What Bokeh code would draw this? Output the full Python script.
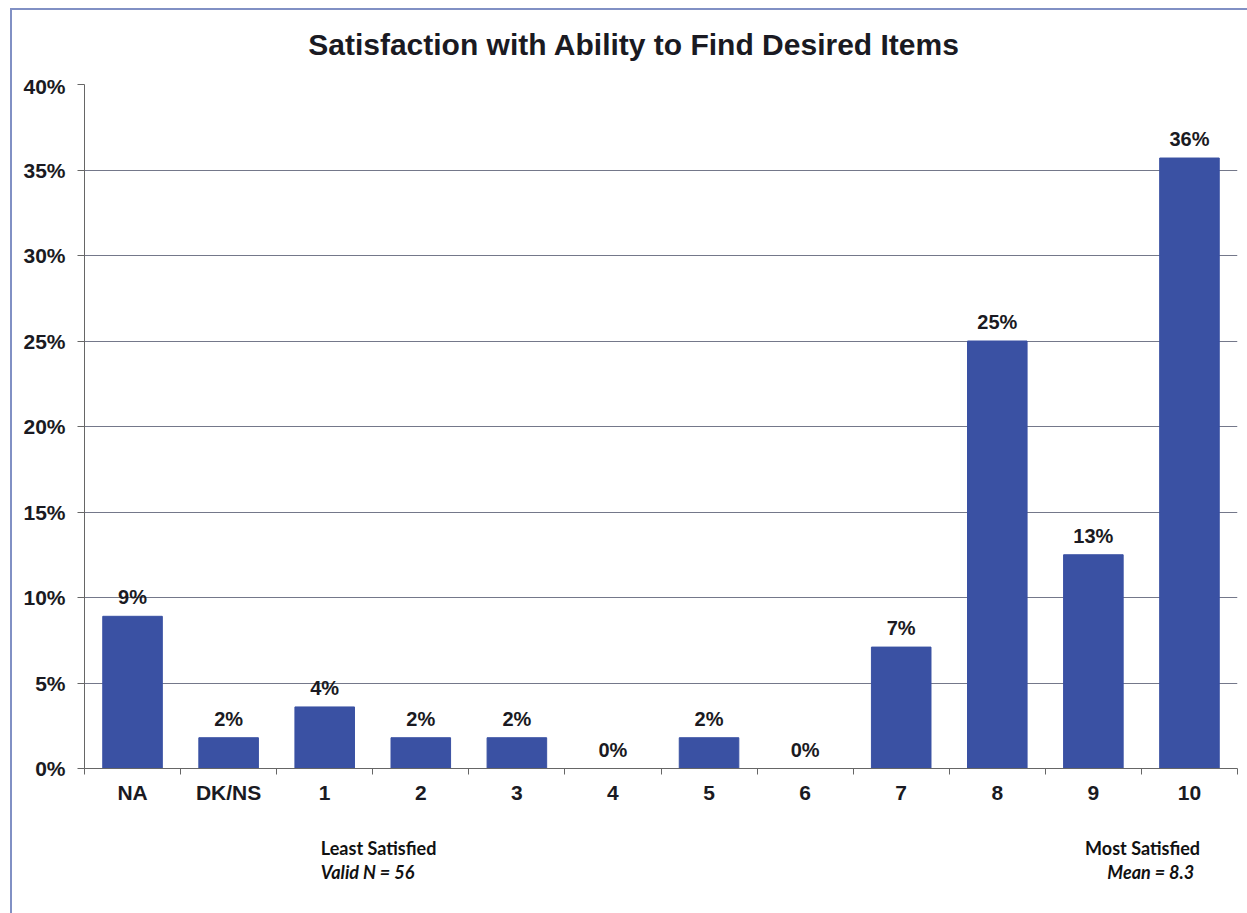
from bokeh.plotting import figure
from bokeh.layouts import column
from bokeh.models import (ColumnDataSource, Range1d, FixedTicker, NumeralTickFormatter,
                          LabelSet)
from bokeh.core.properties import value
from bokeh.embed import file_html
from bokeh.resources import INLINE

title = "Satisfaction with Ability to Find Desired Items"
categories = ["NA", "DK/NS", "1", "2", "3", "4", "5", "6", "7", "8", "9", "10"]
values = [0.089, 0.018, 0.036, 0.018, 0.018, 0.0, 0.018, 0.0, 0.071, 0.25, 0.125, 0.357]
value_labels = ["9%", "2%", "4%", "2%", "2%", "0%", "2%", "0%", "7%", "25%", "13%", "36%"]
y_ticks = [0, 0.05, 0.10, 0.15, 0.20, 0.25, 0.30, 0.35, 0.40]
left_note = ["Least Satisfied", "Valid N = 56"]
right_note = ["Most Satisfied", "Mean = 8.3"]

BAR = "#3a51a3"
FONT = "Liberation Sans"
TXT = "#1a1a22"

pos = [i + 0.5 for i in range(len(categories))]
src = ColumnDataSource(dict(x=pos, top=values, lab=value_labels))
xr = Range1d(0, len(categories))


def blank_panel(h):
    f = figure(width=1235, height=h, output_backend="svg", toolbar_location=None,
               x_range=xr, y_range=Range1d(h, 0),
               min_border_left=72, min_border_right=10, min_border_top=0,
               min_border_bottom=0, x_axis_location=None, y_axis_location=None)
    f.xgrid.visible = False
    f.ygrid.visible = False
    f.outline_line_color = None
    f.border_fill_color = "white"
    return f


# title panel
t = blank_panel(64)
t.text(x=[5.72], y=[34], text=[title], text_font=value(FONT), text_font_size=value("30px"),
       text_font_style="bold", text_color=TXT, text_align="center", text_baseline="middle")

# main chart
p = figure(width=1235, height=744, output_backend="svg", toolbar_location=None,
           x_range=xr, y_range=Range1d(0, 0.40),
           min_border_left=72, min_border_right=10, min_border_top=10,
           min_border_bottom=50)

p.vbar(x="x", top="top", width=0.62, source=src, fill_color=BAR, line_color=BAR)

p.add_layout(LabelSet(x="x", y="top", text="lab", source=src, text_align="center",
                      text_baseline="bottom", y_offset=8, text_font=value(FONT),
                      text_font_size=value("20px"), text_font_style="bold", text_color=TXT))

p.xgrid.visible = False
p.ygrid.ticker = FixedTicker(ticks=y_ticks)
p.ygrid.grid_line_color = "#74788a"
p.ygrid.grid_line_width = 1
p.outline_line_color = None
p.background_fill_color = "white"
p.border_fill_color = "white"

yax = p.yaxis[0]
yax.ticker = FixedTicker(ticks=y_ticks)
yax.formatter = NumeralTickFormatter(format="0%")
yax.axis_line_color = "#666666"
yax.major_tick_line_color = "#666666"
yax.major_tick_out = 7
yax.major_tick_in = 0
yax.minor_tick_line_color = None
yax.major_label_standoff = 12
yax.major_label_text_font = FONT
yax.major_label_text_font_size = "21px"
yax.major_label_text_font_style = "bold"
yax.major_label_text_color = TXT

xax = p.xaxis[0]
xax.ticker = FixedTicker(ticks=pos, minor_ticks=list(range(len(categories) + 1)))
xax.major_label_overrides = {x: c for x, c in zip(pos, categories)}
xax.axis_line_color = "#666666"
xax.major_tick_line_color = None
xax.major_tick_out = 0
xax.major_tick_in = 0
xax.minor_tick_line_color = "#666666"
xax.minor_tick_out = 6
xax.minor_tick_in = 0
xax.major_label_standoff = 6
xax.major_label_text_font = FONT
xax.major_label_text_font_size = "21px"
xax.major_label_text_font_style = "bold"
xax.major_label_text_color = TXT

# notes panel below the chart
q = blank_panel(95)
NOTE_FONT = "Lato"
note_kw = dict(text_font=value(NOTE_FONT), text_font_size=value("18px"),
               text_baseline="middle", text_color="#111111")
q.text(x=[2.46], y=[29], text=[left_note[0]], text_font_style="bold",
       text_align="left", **note_kw)
q.text(x=[2.46], y=[53], text=[left_note[1]], text_font_style="bold italic",
       text_align="left", **note_kw)
q.text(x=[11.61], y=[29], text=[right_note[0]], text_font_style="bold",
       text_align="right", **note_kw)
q.text(x=[11.55], y=[53], text=[right_note[1]], text_font_style="bold italic",
       text_align="right", **note_kw)

layout = column(t, p, q, spacing=0)
layout.margin = (8, 0, 0, 10)
layout.styles = {"border-left": "2px solid #8190c4", "border-top": "2px solid #8190c4"}

open("out.html", "w").write(file_html(layout, INLINE))
